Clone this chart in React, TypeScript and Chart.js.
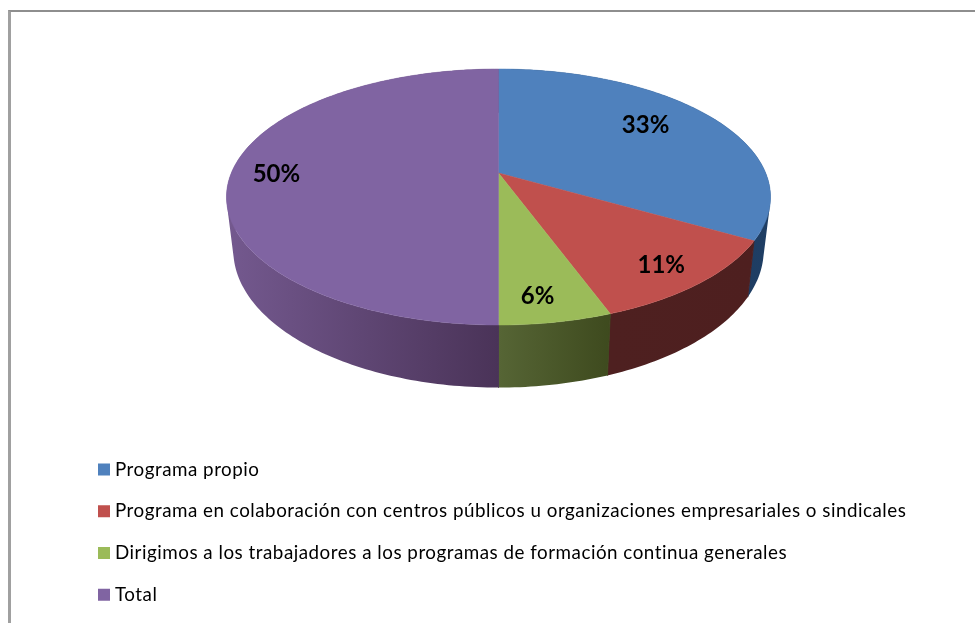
import React, { useEffect, useRef } from "react";
import { Chart, registerables } from "chart.js";

Chart.register(...registerables);

const categories = [
  "Programa propio",
  "Programa en colaboración con centros públicos u organizaciones empresariales o sindicales",
  "Dirigimos a los trabajadores a los programas de formación continua generales",
  "Total",
];
const shares = [33.3, 11.1, 5.6, 50];
const topColors = ["#4f81bd", "#c0504d", "#9bbb59", "#8064a2"];
const sideLeftColors = ["#1b3655", "#4e2020", "#566535", "#74598f"];
const sideRightColors = ["#1f3e64", "#4e1f1f", "#3e4a1e", "#4a3358"];
const labelNudgeX = [-35, -4, -8, 5];

// Perspective view of the disc: unit circle -> screen
const CX = 498.5;
const K = -0.1875;
const A = 91.06;
const B = 173;
const D = 267.2;
const LABEL_R = 0.85;
const LEGEND_TOP = 437.3;

type Pt = { x: number; y: number };

function proj(u: number, v: number): Pt {
  const w = 1 + K * v;
  return { x: CX + (D * u) / w, y: (A * v + B) / w };
}
function lower(p: Pt): Pt {
  return { x: CX + (p.x - CX) * 0.975, y: p.y + 53 + (p.y - 197) * 0.075 };
}
function rimPoints(a0: number, a1: number) {
  const n = Math.max(2, Math.ceil(((a1 - a0) * 180) / Math.PI));
  const pts: Pt[] = [];
  for (let i = 0; i <= n; i++) {
    const a = a0 + ((a1 - a0) * i) / n;
    pts.push(proj(Math.cos(a), Math.sin(a)));
  }
  return pts;
}
function signedArea(q: Pt[]) {
  let s = 0;
  q.forEach((p, i) => {
    const n = q[(i + 1) % q.length];
    s += p.x * n.y - n.x * p.y;
  });
  return s;
}

const disc3d = {
  id: "disc3d",
  afterLayout(chart: any) {
    chart.legend.top = LEGEND_TOP;
    chart.legend.bottom = LEGEND_TOP + chart.legend.height;
  },
  beforeDraw(chart: any) {
    chart.ctx.letterSpacing = "0.51px";
  },
  beforeDatasetDraw(chart: any) {
    const ctx = chart.ctx as CanvasRenderingContext2D;
    const arcs = chart.getDatasetMeta(0).data as any[];
    ctx.save();
    (ctx as any).letterSpacing = "0px";
    arcs.forEach((arc, i) => {
      const pts = rimPoints(arc.startAngle, arc.endAngle);
      const low = pts.map(lower);
      const xs = pts.map((p) => p.x);
      const g = ctx.createLinearGradient(Math.min(...xs), 0, Math.max(...xs), 0);
      g.addColorStop(0, sideLeftColors[i]);
      g.addColorStop(1, sideRightColors[i]);
      ctx.fillStyle = g;
      ctx.strokeStyle = g;
      ctx.beginPath();
      for (let k = 0; k + 1 < pts.length; k++) {
        let q = [pts[k], pts[k + 1], low[k + 1], low[k]];
        if (signedArea(q) < 0) q = q.reverse();
        q.forEach((p, m) => (m ? ctx.lineTo(p.x, p.y) : ctx.moveTo(p.x, p.y)));
        ctx.closePath();
      }
      ctx.fill("nonzero");
      // close the hairline between neighbouring side walls
      const last = pts.length - 1;
      ctx.lineWidth = 0.9;
      ctx.beginPath();
      ctx.moveTo(pts[0].x, pts[0].y);
      ctx.lineTo(low[0].x, low[0].y);
      ctx.moveTo(pts[last].x, pts[last].y);
      ctx.lineTo(low[last].x, low[last].y);
      ctx.stroke();
    });
    arcs.forEach((arc, i) => {
      const pts = rimPoints(arc.startAngle, arc.endAngle);
      const c = proj(0, 0);
      ctx.beginPath();
      ctx.moveTo(c.x, c.y);
      pts.forEach((p) => ctx.lineTo(p.x, p.y));
      ctx.closePath();
      ctx.fillStyle = topColors[i];
      ctx.strokeStyle = topColors[i];
      ctx.lineWidth = 0.5;
      ctx.fill();
      ctx.stroke();
    });
    ctx.fillStyle = "#000";
    ctx.font = "bold 24px Lato";
    ctx.textAlign = "center";
    ctx.textBaseline = "middle";
    arcs.forEach((arc, i) => {
      const mid = (arc.startAngle + arc.endAngle) / 2;
      const p = proj(LABEL_R * Math.cos(mid), LABEL_R * Math.sin(mid));
      ctx.fillText(`${Math.round(shares[i])}%`, p.x + labelNudgeX[i], p.y + 1);
    });
    ctx.restore();
    return false;
  },
};

export default function App() {
  const ref = useRef<HTMLCanvasElement>(null);
  useEffect(() => {
    document.body.style.margin = "0";
    const chart = new Chart(ref.current!, {
      type: "pie",
      data: {
        labels: categories,
        datasets: [{ data: shares, backgroundColor: topColors, borderWidth: 0 }],
      },
      options: {
        responsive: false,
        animation: false,
        layout: { padding: { left: 79.5, top: 0, right: 0, bottom: 0 } },
        plugins: {
          tooltip: { enabled: false },
          legend: {
            position: "chartArea" as any,
            align: "start",
            labels: {
              usePointStyle: true,
              pointStyle: "rect",
              boxWidth: 3.2,
              boxHeight: 12,
              padding: 22.9,
              color: "#000",
              font: { family: "Lato", size: 18.8 },
            },
          },
        },
      },
      plugins: [disc3d],
    });
    return () => chart.destroy();
  }, []);
  return (
    <div style={{ position: "relative", width: 975, height: 623, overflow: "hidden", background: "#fff" }}>
      <div
        style={{
          position: "absolute",
          left: 8,
          top: 10,
          width: 967,
          height: 613,
          boxSizing: "border-box",
          borderTop: "2px solid #8e8e8e",
          borderLeft: "3px solid #a0a0a0",
        }}
      />
      <canvas ref={ref} width={975} height={623} style={{ position: "absolute", left: 0, top: 0, display: "block" }} />
    </div>
  );
}
